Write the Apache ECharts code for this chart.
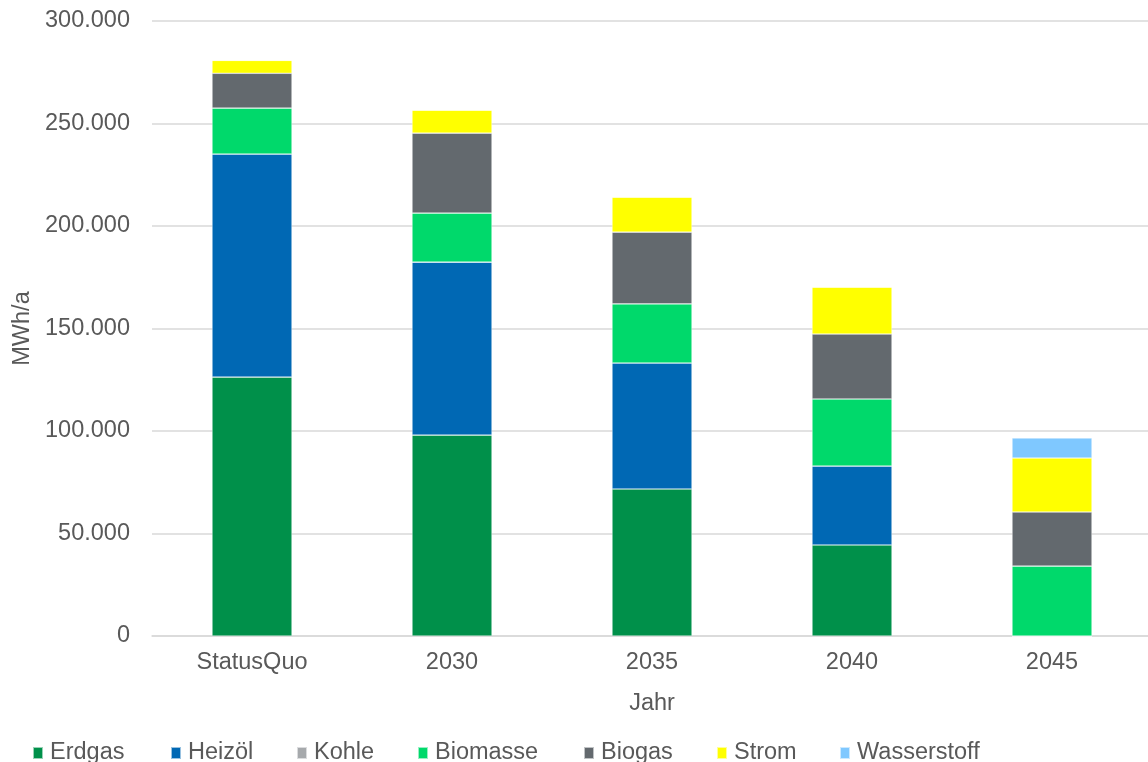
<!DOCTYPE html>
<html><head><meta charset="utf-8">
<script src="https://cdn.jsdelivr.net/npm/echarts@6/dist/echarts.min.js"></script>
<style>html,body{margin:0;padding:0;background:#fff}#c{width:1148px;height:762px}</style>
</head><body><div id="c"></div>
<script>
const categories = ['StatusQuo', '2030', '2035', '2040', '2045'];
const erdgas      = [126300, 98000, 71700, 44400, 0];
const heizoel     = [108800, 84400, 61500, 38500, 0];
const kohle       = [0, 0, 0, 0, 0];
const biomasse    = [22400, 23900, 28800, 32700, 34100];
const biogas      = [17000, 39000, 35000, 31700, 26400];
const strom       = [6300, 11200, 17100, 22900, 26300];
const wasserstoff = [0, 0, 0, 0, 9800];
const seriesNames = ['Erdgas', 'Heizöl', 'Kohle', 'Biomasse', 'Biogas', 'Strom', 'Wasserstoff'];
const seriesData = [erdgas, heizoel, kohle, biomasse, biogas, strom, wasserstoff];
const colors = ['#00904A', '#0068B4', '#A6A9AC', '#00D96B', '#63696E', '#FFFF00', '#7FC8FF'];
const legendLeft = [32, 170, 296, 417, 583, 716, 839];

const fmt = v => v === 0 ? '0' : v.toLocaleString('de-DE');
const txt = '#595959';
const font = 'Liberation Sans, Arial, sans-serif';
const fs = 23.5;

const chart = echarts.init(document.getElementById('c'));
chart.setOption({
  animation: false,
  color: colors,
  textStyle: { fontFamily: font },
  grid: { left: 152, top: 21, width: 1000, bottom: 126, containLabel: false, outerBoundsMode: 'none' },
  legend: seriesNames.map((n, i) => ({
    top: 736, left: legendLeft[i] - 5, padding: 5,
    itemWidth: 10, itemHeight: 12, icon: 'rect',
    textStyle: { fontSize: fs, color: txt, fontFamily: font, padding: [0, 0, 0, 2] },
    data: [n]
  })),
  xAxis: {
    type: 'category', data: categories,
    name: 'Jahr', nameLocation: 'middle', nameGap: 56,
    nameTextStyle: { fontSize: fs, color: txt, fontFamily: font },
    axisLine: { lineStyle: { color: '#D9D9D9', width: 1.5 } },
    axisTick: { show: false },
    axisLabel: { fontSize: fs, color: txt, margin: 15, fontFamily: font }
  },
  yAxis: {
    type: 'value', min: 0, max: 300000, interval: 50000,
    name: 'MWh/a', nameLocation: 'middle', nameGap: 115,
    nameTextStyle: { fontSize: fs, color: txt, fontFamily: font },
    axisLine: { show: false }, axisTick: { show: false },
    splitLine: { lineStyle: { color: '#D9D9D9', width: 1.5 } },
    axisLabel: { fontSize: fs, color: txt, margin: 22, formatter: fmt, fontFamily: font }
  },
  series: seriesNames.map((n, i) => ({
    name: n, type: 'bar', stack: 'total', barWidth: '40%',
    itemStyle: { color: colors[i], borderColor: 'rgba(255,255,255,0.6)', borderWidth: 0.6 },
    data: seriesData[i]
  }))
});
</script></body></html>
